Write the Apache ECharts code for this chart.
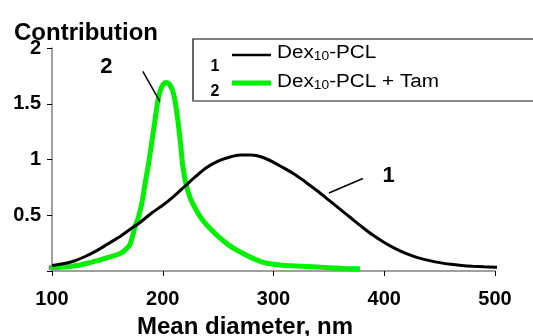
<!DOCTYPE html>
<html>
<head>
<meta charset="utf-8">
<script src="https://cdn.jsdelivr.net/npm/echarts@6/dist/echarts.min.js"></script>
<style>
	html, body { margin: 0; padding: 0; background: #fff; }
	#chart { width: 533px; height: 336px; }
</style>
</head>
<body>
<div id="chart"></div>
<script>
	// curve 1: Dex10-PCL
	const dexDiam = [100, 110, 120, 130, 140, 150, 160, 170, 180, 190, 200, 210, 220, 230, 240, 250, 260, 270, 280, 290, 300, 310, 320, 330, 340, 350, 360, 370, 380, 390, 400, 410, 420, 430, 440, 450, 460, 470, 480, 490, 500, 512];
	const dexVal = [0.05, 0.065, 0.09, 0.13, 0.18, 0.24, 0.3, 0.37, 0.44, 0.52, 0.59, 0.67, 0.76, 0.85, 0.93, 0.985, 1.02, 1.04, 1.04, 1.02, 0.975, 0.92, 0.86, 0.79, 0.715, 0.635, 0.555, 0.475, 0.395, 0.32, 0.255, 0.2, 0.155, 0.12, 0.095, 0.075, 0.06, 0.05, 0.043, 0.038, 0.034, 0.03];
	// curve 2: Dex10-PCL + Tam
	const tamDiam = [91, 100, 110, 120, 130, 140, 150, 160, 165, 170, 173, 175, 178, 181, 184, 187, 190, 193, 196, 199, 203, 207, 210, 213, 216, 218, 221, 225, 230, 235, 240, 250, 260, 270, 280, 290, 300, 310, 320, 330, 340, 350, 360, 370, 378];
	const tamVal = [0.03, 0.03, 0.035, 0.045, 0.065, 0.09, 0.12, 0.15, 0.18, 0.23, 0.32, 0.4, 0.48, 0.6, 0.78, 0.95, 1.15, 1.35, 1.55, 1.65, 1.69, 1.66, 1.58, 1.4, 1.15, 0.95, 0.78, 0.65, 0.55, 0.47, 0.41, 0.31, 0.23, 0.17, 0.12, 0.08, 0.06, 0.05, 0.045, 0.04, 0.035, 0.03, 0.025, 0.02, 0.02];
	const xTicks = [100, 200, 300, 400, 500];
	const yTicks = [0, 0.5, 1, 1.5, 2];
	// callouts: label position and leader line ends, in data units
	const callouts = [
		{ text: '2', at: [149, 1.83], from: [182, 1.79], to: [197.5, 1.52] },
		{ text: '1', at: [404, 0.85], from: [380.7, 0.83], to: [350, 0.70] }
	];

	const font = 'Arial, "Liberation Sans", sans-serif';
	const green = '#00f000';
	const chart = echarts.init(document.getElementById('chart'));

	function pairs(xs, ys) {
		return xs.map((x, i) => [x, ys[i]]);
	}

	chart.setOption({
		animation: false,
		title: [{
			text: 'Contribution',
			left: 9,
			top: 16,
			textStyle: { fontFamily: font, fontWeight: 'bold', fontSize: 24, color: '#000' }
		}, {
			text: 'Mean diameter, nm',
			left: 132,
			top: 310,
			textStyle: { fontFamily: font, fontWeight: 'bold', fontSize: 24, color: '#000' }
		}],
		grid: { left: 52, right: 38, top: 48, bottom: 65 },
		xAxis: {
			type: 'value',
			min: xTicks[0],
			max: xTicks[xTicks.length - 1],
			interval: 100,
			splitLine: { show: false },
			axisLine: { lineStyle: { color: '#808080', width: 1.5 } },
			axisTick: { length: 5, lineStyle: { color: '#000', width: 1 } },
			axisLabel: { margin: 18, fontFamily: font, fontWeight: 'bold', fontSize: 20, color: '#000' }
		},
		yAxis: {
			type: 'value',
			min: yTicks[0],
			max: yTicks[yTicks.length - 1],
			interval: 0.5,
			splitLine: { show: false },
			axisLine: { show: true, lineStyle: { color: '#808080', width: 1.5 } },
			axisTick: { show: true, length: 5, lineStyle: { color: '#000', width: 1 } },
			axisLabel: {
				margin: 11,
				padding: [5, 0, 0, 0],
				fontFamily: font,
				fontWeight: 'bold',
				fontSize: 20,
				color: '#000',
				formatter: (v) => (v === 0 ? '' : String(v))
			}
		},
		series: [{
			name: 'Dex10-PCL',
			type: 'line',
			data: pairs(dexDiam, dexVal),
			smooth: 0.3,
			showSymbol: false,
			clip: false,
			lineStyle: { color: '#000', width: 3 },
			z: 3
		}, {
			name: 'Dex10-PCL + Tam',
			type: 'line',
			data: pairs(tamDiam, tamVal),
			smooth: 0.3,
			showSymbol: false,
			clip: false,
			lineStyle: { color: green, width: 5 },
			z: 2
		}]
	});

	// legend box, built by hand to keep the numbered layout
	const legendText = {
		a: { fontFamily: font, fontSize: 18, color: '#000', lineHeight: 20 },
		s: { fontFamily: font, fontSize: 12, color: '#000', lineHeight: 12, verticalAlign: 'bottom' }
	};
	const graphics = [
		{ type: 'rect', shape: { x: 193, y: 39, width: 360, height: 62 }, style: { fill: '#fff', stroke: '#000', lineWidth: 1.2 }, z: 10 },
		{ type: 'line', shape: { x1: 193, y1: 101, x2: 533, y2: 101 }, style: { stroke: '#888', lineWidth: 2 }, z: 11 },
		{ type: 'text', x: 215, y: 67, style: { text: '1', fontFamily: font, fontWeight: 'bold', fontSize: 16, fill: '#000', align: 'center', verticalAlign: 'middle' }, z: 11 },
		{ type: 'text', x: 215, y: 92, style: { text: '2', fontFamily: font, fontWeight: 'bold', fontSize: 16, fill: '#000', align: 'center', verticalAlign: 'middle' }, z: 11 },
		{ type: 'line', shape: { x1: 232, y1: 55, x2: 271, y2: 55 }, style: { stroke: '#000', lineWidth: 2.5 }, z: 11 },
		{ type: 'line', shape: { x1: 232, y1: 83, x2: 271, y2: 83 }, style: { stroke: green, lineWidth: 5 }, z: 11 },
		{ type: 'text', x: 277, y: 53, scaleX: 1.15, style: { text: '{a|Dex}{s|10}{a|-PCL}', rich: legendText, verticalAlign: 'middle' }, z: 11 },
		{ type: 'text', x: 277, y: 82, scaleX: 1.15, style: { text: '{a|Dex}{s|10}{a|-PCL + Tam}', rich: legendText, verticalAlign: 'middle' }, z: 11 }
	];
	callouts.forEach((c) => {
		const p = chart.convertToPixel('grid', c.at);
		const a = chart.convertToPixel('grid', c.from);
		const b = chart.convertToPixel('grid', c.to);
		graphics.push({ type: 'text', x: p[0], y: p[1], style: { text: c.text, fontFamily: font, fontWeight: 'bold', fontSize: 22, fill: '#000', align: 'center', verticalAlign: 'middle' }, z: 11 });
		graphics.push({ type: 'line', shape: { x1: a[0], y1: a[1], x2: b[0], y2: b[1] }, style: { stroke: '#000', lineWidth: 1.5 }, z: 11 });
	});
	chart.setOption({ graphic: graphics });
</script>
</body>
</html>
